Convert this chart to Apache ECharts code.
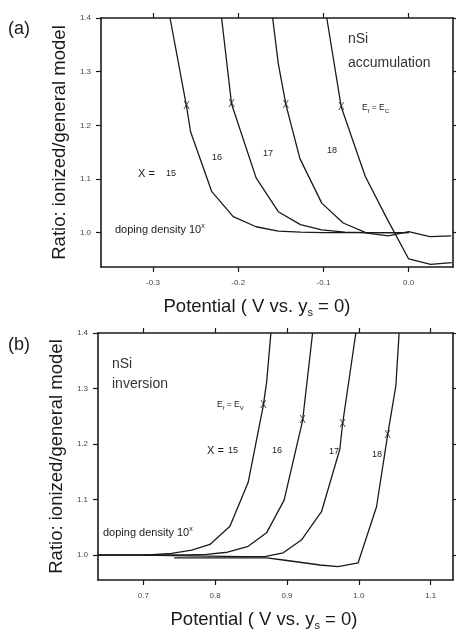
<!DOCTYPE html>
<html><head><meta charset="utf-8">
<script src="https://cdn.jsdelivr.net/npm/echarts@6/dist/echarts.min.js"></script>
<style>html,body{margin:0;padding:0;background:#fff}#c{width:456px;height:632px}</style>
</head><body><div id="c"></div>
<script>
// ---- Panel (a): nSi accumulation ----
const a15 = [[-0.280,1.40],[-0.2606,1.235],[-0.2559,1.188],[-0.2312,1.077],[-0.2059,1.030],[-0.179,1.011],[-0.153,1.003],[-0.127,1.001],[-0.100,1.000],[-0.075,1.000],[-0.050,1.000],[-0.025,1.000],[0.0,1.000]];
const a16 = [[-0.2195,1.40],[-0.2078,1.2396],[-0.179,1.102],[-0.153,1.039],[-0.127,1.015],[-0.102,1.005],[-0.075,1.001],[-0.050,1.000],[-0.025,1.000],[0.0,1.000]];
const a17 = [[-0.1596,1.40],[-0.153,1.315],[-0.144,1.238],[-0.1276,1.138],[-0.102,1.055],[-0.0768,1.018],[-0.049,0.999],[-0.024,0.994],[0.0,1.002],[0.025,0.9925],[0.050,0.994]];
const a18 = [[-0.0961,1.40],[-0.0791,1.234],[-0.051,1.105],[-0.0258,1.027],[0.0,0.951],[0.0258,0.941],[0.0505,0.944]];
const aMarks = [[-0.2606,1.235],[-0.2078,1.2396],[-0.144,1.238],[-0.0791,1.234]];
const aXTicks = [-0.3,-0.2,-0.1,0.0];
// ---- Panel (b): nSi inversion ----
const b15 = [[0.637,1.000],[0.707,1.000],[0.7395,1.003],[0.7673,1.009],[0.7928,1.019],[0.8206,1.052],[0.846,1.131],[0.867,1.269],[0.8716,1.311],[0.8776,1.40]];
const b16 = [[0.637,1.000],[0.760,1.000],[0.788,1.001],[0.817,1.005],[0.845,1.015],[0.8716,1.040],[0.896,1.099],[0.9217,1.242],[0.9356,1.40]];
const b17 = [[0.700,1.000],[0.740,0.999],[0.790,0.998],[0.840,0.997],[0.869,0.997],[0.8947,1.004],[0.920,1.027],[0.948,1.078],[0.9736,1.191],[0.9773,1.236],[0.9958,1.40]];
const b18 = [[0.743,0.995],[0.800,0.995],[0.8716,0.995],[0.8947,0.991],[0.918,0.987],[0.9458,0.982],[0.971,0.979],[0.999,0.986],[1.0246,1.087],[1.040,1.216],[1.0515,1.305],[1.056,1.40]];
const bMarks = [[0.867,1.269],[0.9217,1.242],[0.9773,1.236],[1.040,1.216]];
const bXTicks = [0.7,0.8,0.9,1.0,1.1];
const yTicks = [1.0,1.1,1.2,1.3,1.4];

const FONT = '"Liberation Sans", Arial, sans-serif';
const INK = '#1a1a1a';
const chart = echarts.init(document.getElementById('c'), null, {renderer:'canvas'});

const grids = [
  {left:101, top:18, width:352, height:249},
  {left:98, top:333, width:355, height:249}
];
const xr = [[-0.361,0.052],[0.637,1.131]];
const yr = [[0.936,1.40],[0.955,1.40]];
const xt = [aXTicks, bXTicks];
const namePad = [[0,40,0,0],[0,23,0,0]];

const lineStyleAxis = {color:INK, width:1.6};
const xAxes = [], yAxes = [];
[0,1].forEach(g=>{
  xAxes.push({type:'value', gridIndex:g, min:xr[g][0], max:xr[g][1], position:'bottom',
    axisLine:{show:true, onZero:false, lineStyle:lineStyleAxis},
    axisTick:{show:true, length:5, customValues:xt[g], lineStyle:{color:INK,width:1.2}},
    axisLabel:{show:true, customValues:xt[g], formatter:v=>v.toFixed(1), fontSize:8, color:'#444', margin:12, fontFamily:FONT},
    splitLine:{show:false},
    name:'Potential ( V vs. y{s|s} = 0)', nameLocation:'middle', nameGap:28,
    nameTextStyle:{fontSize:18.5, color:INK, fontFamily:FONT, lineHeight:23, padding:namePad[g],
      rich:{s:{fontSize:11, fontFamily:FONT, color:INK, verticalAlign:'bottom', lineHeight:15}}}
  });
  xAxes.push({type:'value', gridIndex:g, min:xr[g][0], max:xr[g][1], position:'top',
    axisLine:{show:true, onZero:false, lineStyle:lineStyleAxis},
    axisTick:{show:true, length:5, customValues:xt[g], lineStyle:{color:INK,width:1.2}},
    axisLabel:{show:false}, splitLine:{show:false}
  });
  yAxes.push({type:'value', gridIndex:g, min:yr[g][0], max:yr[g][1], position:'left',
    axisLine:{show:true, onZero:false, lineStyle:lineStyleAxis},
    axisTick:{show:true, length:5, customValues:yTicks, lineStyle:{color:INK,width:1.2}},
    axisLabel:{show:true, customValues:yTicks, formatter:v=>v.toFixed(1), fontSize:8, color:'#444', margin:10, fontFamily:FONT},
    splitLine:{show:false},
    name:'Ratio: ionized/general model', nameLocation:'middle', nameGap:28,
    nameTextStyle:{fontSize:18.5, color:INK, fontFamily:FONT}
  });
  yAxes.push({type:'value', gridIndex:g, min:yr[g][0], max:yr[g][1], position:'right',
    axisLine:{show:true, onZero:false, lineStyle:lineStyleAxis},
    axisTick:{show:true, length:5, customValues:yTicks, lineStyle:{color:INK,width:1.2}},
    axisLabel:{show:false}, splitLine:{show:false}
  });
});

function curve(data, g){
  return {type:'line', xAxisIndex:g*2, yAxisIndex:g*2, data:data, showSymbol:false, symbol:'none',
    lineStyle:{color:INK, width:1.3}, clip:true, silent:true, animation:false, z:3};
}
function marks(data, g){
  return {type:'scatter', xAxisIndex:g*2, yAxisIndex:g*2, data:data, symbol:'circle', symbolSize:1,
    itemStyle:{color:'rgba(0,0,0,0)'}, silent:true, animation:false, z:5,
    label:{show:true, formatter:'X', position:'inside', fontSize:10, color:INK, fontFamily:FONT}};
}

function t(text, x, y, size, extra){
  return Object.assign({type:'text', x:x, y:y, z:10, silent:true,
    style:Object.assign({text:text, fontSize:size, fontFamily:FONT, fill:INK, verticalAlign:'middle'}, extra||{})});
}
const sub = {s:{fontSize:6, fontFamily:FONT, fill:INK, verticalAlign:'bottom', lineHeight:12}};
const sup = {p:{fontSize:7, fontFamily:FONT, fill:INK, verticalAlign:'top', lineHeight:10}};

const graphics = [
  t('(a)', 8, 29, 18),
  t('nSi', 348, 39, 14, {fill:'#333'}),
  t('accumulation', 348, 63, 14, {fill:'#333'}),
  t('E{s|f} = E{s|C}', 362, 108, 8.5, {rich:sub, lineHeight:11}),
  t('16', 212, 158, 9),
  t('17', 263, 154, 9),
  t('18', 327, 151, 9),
  t('X =', 138, 174, 11),
  t('15', 166, 174, 9),
  t('doping density 10{p|x}', 115, 230, 11, {rich:sup, lineHeight:14}),

  t('(b)', 8, 345, 18),
  t('nSi', 112, 364, 14, {fill:'#333'}),
  t('inversion', 112, 384, 14, {fill:'#333'}),
  t('E{s|f} = E{s|V}', 217, 405, 8.5, {rich:sub, lineHeight:11}),
  t('X =', 207, 451, 11),
  t('15', 228, 451, 9),
  t('16', 272, 451, 9),
  t('17', 329, 452, 9),
  t('18', 372, 455, 9),
  t('doping density 10{p|x}', 103, 533, 11, {rich:sup, lineHeight:14})
];

chart.setOption({
  animation:false,
  backgroundColor:'#fff',
  grid:grids,
  xAxis:xAxes,
  yAxis:yAxes,
  series:[curve(a15,0),curve(a16,0),curve(a17,0),curve(a18,0),marks(aMarks,0),
          curve(b15,1),curve(b16,1),curve(b17,1),curve(b18,1),marks(bMarks,1)],
  graphic:graphics
});
</script></body></html>
